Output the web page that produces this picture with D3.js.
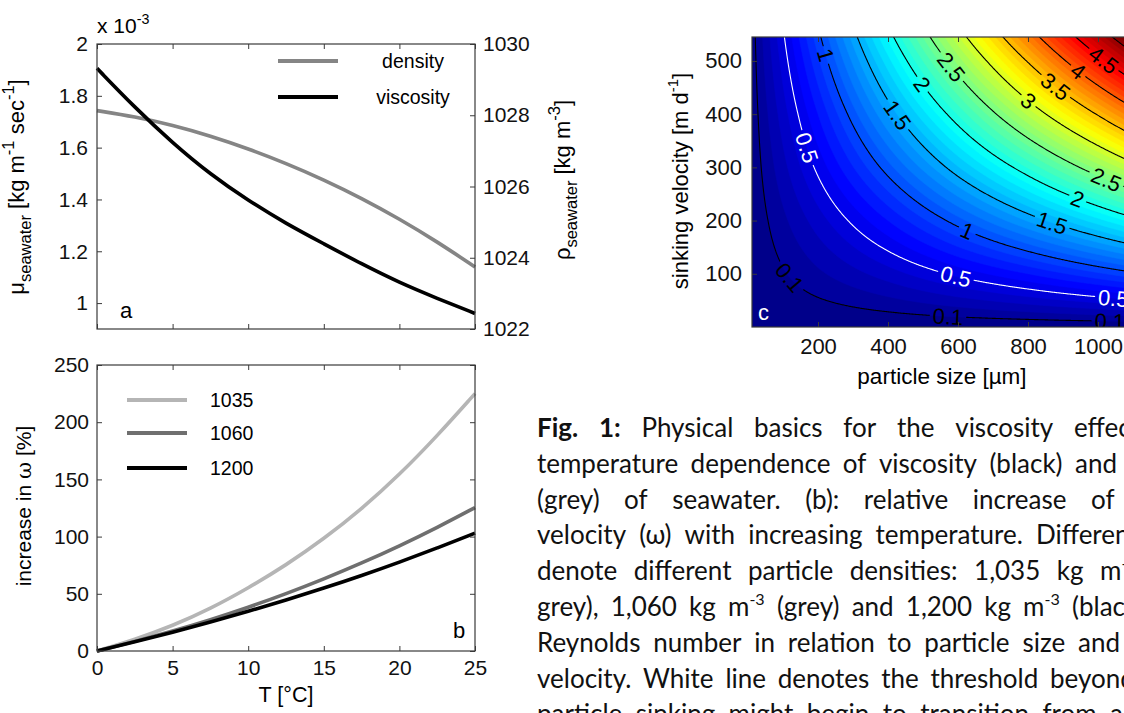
<!DOCTYPE html>
<html>
<head>
<meta charset="utf-8">
<script src="https://cdnjs.cloudflare.com/ajax/libs/d3/7.8.5/d3.min.js"></script>
<style>
  body { margin: 0; background: #fff; overflow: hidden; }
  svg { display: block; }
</style>
</head>
<body>
<div id="vis"></div>
<script>
'use strict';

// ---- values ----
// panel a / b share the temperature axis
var tempC = [0, 2.5, 5, 7.5, 10, 12.5, 15, 17.5, 20, 22.5, 25];
var viscosity = [1.906, 1.755, 1.618, 1.497, 1.396, 1.307, 1.229, 1.151, 1.079, 1.018, 0.960]; // x 10^-3
var density = [1028.13, 1027.96, 1027.72, 1027.42, 1027.06, 1026.65, 1026.19, 1025.67, 1025.09, 1024.45, 1023.74];
var inc1035 = [0, 10, 22, 37, 55, 75, 98, 124, 154, 188, 225];
var inc1060 = [0, 8.3, 17.3, 27.2, 38.1, 50, 62.9, 76.8, 91.8, 107.9, 125.4];
var inc1200 = [0, 7.9, 16.3, 25.2, 34.6, 44.5, 54.9, 65.9, 77.6, 90, 103];
var tTicks = [0, 5, 10, 15, 20, 25];
var muTicks = [1, 1.2, 1.4, 1.6, 1.8, 2];
var rhoTicks = [1022, 1024, 1026, 1028, 1030];
var incTicks = [0, 50, 100, 150, 200, 250];

// panel c: Reynolds number on a coarse grid (rows = sinking velocity)
var particleSize = [0, 200, 400, 600, 800, 1000, 1100];
var sinkVel = [0, 100, 200, 300, 400, 500, 550];
var reynolds = [
  [0, 0,    0,    0,    0,    0,    0   ],
  [0, 0.18, 0.35, 0.53, 0.70, 0.88, 0.97],
  [0, 0.35, 0.70, 1.06, 1.41, 1.76, 1.94],
  [0, 0.53, 1.06, 1.59, 2.11, 2.64, 2.91],
  [0, 0.70, 1.41, 2.11, 2.82, 3.52, 3.88],
  [0, 0.88, 1.76, 2.64, 3.52, 4.41, 4.85],
  [0, 0.97, 1.94, 2.91, 3.88, 4.85, 5.33]
];
var reLevels = [0.1, 0.5, 1, 1.5, 2, 2.5, 3, 3.5, 4, 4.5, 5];
var sizeTicks = [200, 400, 600, 800, 1000];
var velTicks = [100, 200, 300, 400, 500];

var captionLines = [
  'Fig. 1: Physical basics for the viscosity effect.',
  'temperature dependence of viscosity (black) and',
  '(grey) of seawater. (b): relative increase of',
  'velocity (\u03c9) with increasing temperature. Different',
  'denote different particle densities: 1,035 kg m^-3',
  'grey), 1,060 kg m^-3 (grey) and 1,200 kg m^-3 (black).',
  'Reynolds number in relation to particle size and',
  'velocity. White line denotes the threshold beyond',
  'particle sinking might begin to transition from a'
];

// ---- layout ----
var W = 1124, H = 713;
var AXIS = '#3a3a3a';
var FONT = '"Liberation Sans", Arial, Helvetica, sans-serif';
var TICK = 5;
var TICKFONT = 21;

var svg = d3.select('#vis').append('svg')
    .attr('width', W).attr('height', H)
    .style('font-family', FONT);

// text with sub/superscripts: parts = [[text, 'sub'|'sup'|undefined, font], ...]
function richText(sel, parts, size, small) {
  small = small || 0.68;
  var shift = 0;
  parts.forEach(function(p) {
    var want = p[1] === 'sub' ? size * 0.3 : (p[1] === 'sup' ? -size * 0.45 : 0);
    var t = sel.append('tspan').text(p[0]).attr('dy', want - shift);
    if (p[1]) t.attr('font-size', size * small);
    if (p[2]) t.attr('font-family', p[2]);
    shift = want;
  });
  return sel;
}

function rotatedLabel(cx, cy, parts, size, small) {
  var t = svg.append('text')
      .attr('transform', 'translate(' + cx + ',' + cy + ') rotate(-90)')
      .attr('text-anchor', 'middle')
      .attr('font-size', size);
  richText(t, parts, size, small);
}

function styleAxis(g, size) {
  g.attr('font-family', FONT).attr('font-size', size);
  g.select('.domain').remove();
  g.selectAll('.tick line').attr('stroke', AXIS);
  g.selectAll('.tick text').attr('fill', '#111');
}

function box(x, scale) {
  svg.append('rect')
      .attr('x', x.range()[0]).attr('y', scale.range()[1])
      .attr('width', x.range()[1] - x.range()[0])
      .attr('height', scale.range()[0] - scale.range()[1])
      .attr('fill', 'none').attr('stroke', AXIS).attr('stroke-width', 1.2);
}

// ================= panel a =================
var xA = d3.scaleLinear().domain([0, 25]).range([97, 475]);
var muY = d3.scaleLinear().domain([0.9, 2.0]).range([329, 44]);
var rhoY = d3.scaleLinear().domain([1022, 1030]).range([329, 44]);

function tempLine(scale, values) {
  return d3.line()
      .x(function(d, i) { return xA(tempC[i]); })
      .y(function(d) { return scale(d); })
      .curve(d3.curveBasis)(values);
}

svg.append('path').attr('d', tempLine(rhoY, density))
    .attr('fill', 'none').attr('stroke', '#858585').attr('stroke-width', 3.6);
svg.append('path').attr('d', tempLine(muY, viscosity))
    .attr('fill', 'none').attr('stroke', '#000').attr('stroke-width', 3.6);

styleAxis(svg.append('g').attr('transform', 'translate(97,0)')
    .call(d3.axisLeft(muY).tickValues(muTicks).tickSize(-TICK).tickPadding(9)
      .tickFormat(function(d) { return (d === 1 || d === 2) ? d : d.toFixed(1); })), TICKFONT);
styleAxis(svg.append('g').attr('transform', 'translate(475,0)')
    .call(d3.axisRight(rhoY).tickValues(rhoTicks).tickSize(-TICK).tickPadding(8)
      .tickFormat(d3.format('d'))), TICKFONT);
styleAxis(svg.append('g').attr('transform', 'translate(0,329)')
    .call(d3.axisBottom(xA).tickValues(tTicks).tickSize(-TICK).tickFormat('')), TICKFONT);
styleAxis(svg.append('g').attr('transform', 'translate(0,44)')
    .call(d3.axisTop(xA).tickValues(tTicks).tickSize(-TICK).tickFormat('')), TICKFONT);
box(xA, muY);

richText(svg.append('text').attr('x', 97).attr('y', 33).attr('font-size', 21),
    [['x 10'], ['-3', 'sup']], 21);
rotatedLabel(24, 187, [['\u03bc'], ['seawater', 'sub'], [' [kg m'], ['-1', 'sup'], [' sec'], ['-1', 'sup'], [']']], 22, 0.75);
rotatedLabel(570, 180, [['\u03c1'], ['seawater', 'sub'], [' [kg m'], ['-3', 'sup'], [']']], 22, 0.75);

// legend a
var legA = [['density', '#858585', 61], ['viscosity', '#000', 97]];
legA.forEach(function(d) {
  svg.append('line').attr('x1', 278).attr('x2', 338).attr('y1', d[2]).attr('y2', d[2])
      .attr('stroke', d[1]).attr('stroke-width', 4);
  svg.append('text').attr('x', 413).attr('y', d[2] + 7).attr('text-anchor', 'middle')
      .attr('font-size', 19.5).text(d[0]);
});
svg.append('text').attr('x', 120).attr('y', 318).attr('font-size', 22).text('a');

// ================= panel b =================
var incY = d3.scaleLinear().domain([0, 250]).range([651, 365]);
var seriesB = [['1035', inc1035, '#b5b5b5', 400], ['1060', inc1060, '#6f6f6f', 433], ['1200', inc1200, '#000', 468]];
seriesB.forEach(function(s) {
  svg.append('path').attr('d', tempLine(incY, s[1]))
      .attr('fill', 'none').attr('stroke', s[2]).attr('stroke-width', 3.6);
});

styleAxis(svg.append('g').attr('transform', 'translate(97,0)')
    .call(d3.axisLeft(incY).tickValues(incTicks).tickSize(-TICK).tickPadding(8)), TICKFONT);
styleAxis(svg.append('g').attr('transform', 'translate(475,0)')
    .call(d3.axisRight(incY).tickValues(incTicks).tickSize(-TICK).tickFormat('')), TICKFONT);
styleAxis(svg.append('g').attr('transform', 'translate(0,651)')
    .call(d3.axisBottom(xA).tickValues(tTicks).tickSize(-TICK).tickPadding(9)), TICKFONT);
styleAxis(svg.append('g').attr('transform', 'translate(0,365)')
    .call(d3.axisTop(xA).tickValues(tTicks).tickSize(-TICK).tickFormat('')), TICKFONT);
box(xA, incY);

seriesB.forEach(function(s) {
  svg.append('line').attr('x1', 127).attr('x2', 187).attr('y1', s[3]).attr('y2', s[3])
      .attr('stroke', s[2]).attr('stroke-width', 4);
  svg.append('text').attr('x', 210).attr('y', s[3] + 7).attr('font-size', 19.5).text(s[0]);
});
svg.append('text').attr('x', 453).attr('y', 638).attr('font-size', 22).text('b');
rotatedLabel(31, 506, [['increase in '], ['\u03c9', undefined, '"DejaVu Serif", serif'], [' [%]']], 21);
svg.append('text').attr('x', 286).attr('y', 702).attr('text-anchor', 'middle')
    .attr('font-size', 21.5).text('T [\u00b0C]');

// ================= panel c =================
var xC = d3.scaleLinear().domain([10, 1100]).range([751.5, 1133]);
var yC = d3.scaleLinear().domain([0, 545]).range([327, 37]);
var reMax = 5.1;

function jet(t) {
  t = Math.max(0, Math.min(1, t));
  function c(v) { return Math.max(0, Math.min(1, v)) * 255; }
  return d3.rgb(c(1.5 - Math.abs(4 * t - 3)), c(1.5 - Math.abs(4 * t - 2)), c(1.5 - Math.abs(4 * t - 1))) + '';
}

// bilinear read of the coarse table
function reAt(s, v) {
  var i = Math.max(0, Math.min(d3.bisectRight(particleSize, s) - 1, particleSize.length - 2));
  var j = Math.max(0, Math.min(d3.bisectRight(sinkVel, v) - 1, sinkVel.length - 2));
  var tx = (s - particleSize[i]) / (particleSize[i + 1] - particleSize[i]);
  var ty = (v - sinkVel[j]) / (sinkVel[j + 1] - sinkVel[j]);
  var r0 = reynolds[j][i] * (1 - tx) + reynolds[j][i + 1] * tx;
  var r1 = reynolds[j + 1][i] * (1 - tx) + reynolds[j + 1][i + 1] * tx;
  return r0 * (1 - ty) + r1 * ty;
}

var nx = 440, ny = 220;
var gx = d3.scaleLinear().domain([0, nx]).range([0, 1100]);
var gy = d3.scaleLinear().domain([0, ny]).range([0, 550]);
var grid = new Array(nx * ny);
for (var j = 0; j < ny; j++) {
  for (var i = 0; i < nx; i++) {
    grid[j * nx + i] = reAt(gx(i + 0.5), gy(j + 0.5));
  }
}
var gridPath = d3.geoPath(d3.geoTransform({
  point: function(px, py) { this.stream.point(xC(gx(px)), yC(gy(py))); }
}));

var defs = svg.append('defs');
defs.append('clipPath').attr('id', 'clipC').append('rect')
    .attr('x', 752).attr('y', 37).attr('width', 400).attr('height', 290);

var plotC = svg.append('g').attr('clip-path', 'url(#clipC)');
var bandStep = 0.1;
var bands = d3.contours().size([nx, ny]).thresholds(d3.range(0, 5.4, bandStep))(grid);
plotC.selectAll('path.band').data(bands).join('path')
    .attr('class', 'band')
    .attr('d', gridPath)
    .attr('fill', function(d) { return jet((d.value + bandStep / 2) / reMax); })
    .attr('stroke', function(d) { return jet((d.value + bandStep / 2) / reMax); })
    .attr('stroke-width', 0.6);

// contour lines without the segments that run along the grid border
var eps = 1e-6;
function onEdge(p) { return p[0] <= eps || p[0] >= nx - eps || p[1] <= eps || p[1] >= ny - eps; }
var isoLines = d3.contours().size([nx, ny]).thresholds(reLevels)(grid).map(function(c) {
  var lines = [];
  c.coordinates.forEach(function(poly) {
    poly.forEach(function(ring) {
      var cur = [];
      for (var k = 0; k < ring.length; k++) {
        var p = ring[k];
        if (k > 0 && onEdge(p) && onEdge(ring[k - 1])) {
          if (cur.length > 1) lines.push(cur);
          cur = [];
        }
        cur.push([xC(gx(p[0])), yC(gy(p[1]))]);
      }
      if (cur.length > 1) lines.push(cur);
    });
  });
  return { level: c.value, lines: lines };
});

// label spots (data units, where the figure prints them)
var reLabelSpots = [
  [1, 220, 511], [0.5, 163, 336], [2.5, 583, 489], [2, 500, 458], [1.5, 434, 402],
  [3.5, 883, 455], [3, 806, 430], [4, 949, 487], [4.5, 1026, 511],
  [2.5, 1026, 281], [2, 943, 243], [1.5, 869, 196], [1, 626, 181],
  [0.5, 591, 91], [0.5, 1043, 49], [0.1, 114, 91], [0.1, 571, 15], [0.1, 1034, 6]
];

var mask = defs.append('mask').attr('id', 'gapMask').attr('maskUnits', 'userSpaceOnUse')
    .attr('x', 0).attr('y', 0).attr('width', W).attr('height', H);
mask.append('rect').attr('width', W).attr('height', H).attr('fill', '#fff');

var lineG = plotC.append('g').attr('mask', 'url(#gapMask)');
var line = d3.line();
isoLines.forEach(function(iso) {
  iso.lines.forEach(function(pts) {
    lineG.append('path').attr('d', line(pts)).attr('fill', 'none')
        .attr('stroke', iso.level === 0.5 ? '#fff' : '#000').attr('stroke-width', 1.1);
  });
});

var labelG = plotC.append('g');
reLabelSpots.forEach(function(spot) {
  var iso = isoLines.filter(function(d) { return Math.abs(d.level - spot[0]) < 1e-9; })[0];
  var tx = xC(spot[1]), ty = yC(spot[2]);
  var best = null, bestD = Infinity;
  iso.lines.forEach(function(pts) {
    pts.forEach(function(p, k) {
      var dd = (p[0] - tx) * (p[0] - tx) + (p[1] - ty) * (p[1] - ty);
      if (dd < bestD) { bestD = dd; best = { pts: pts, k: k }; }
    });
  });
  if (!best) return;
  var pts = best.pts, k = best.k;
  var a = pts[Math.max(0, k - 3)], b = pts[Math.min(pts.length - 1, k + 3)];
  var ang = Math.atan2(b[1] - a[1], b[0] - a[0]) * 180 / Math.PI;
  if (ang > 90) ang -= 180;
  if (ang < -90) ang += 180;
  var p = pts[k];
  var t = labelG.append('text')
      .attr('transform', 'translate(' + p[0] + ',' + p[1] + ') rotate(' + ang + ')')
      .attr('text-anchor', 'middle').attr('dy', '0.36em')
      .attr('font-size', 22)
      .attr('fill', spot[0] === 0.5 ? '#fff' : '#000')
      .text(spot[0]);
  var w = t.node().getComputedTextLength() + 6;
  mask.append('rect')
      .attr('x', -w / 2).attr('y', -9).attr('width', w).attr('height', 18)
      .attr('transform', 'translate(' + p[0] + ',' + p[1] + ') rotate(' + ang + ')')
      .attr('fill', '#000');
});

plotC.append('text').attr('x', 758).attr('y', 320).attr('font-size', 22)
    .attr('fill', '#fff').text('c');

styleAxis(svg.append('g').attr('transform', 'translate(752,0)')
    .call(d3.axisLeft(yC).tickValues(velTicks).tickSize(-TICK).tickPadding(10)), 22);
styleAxis(svg.append('g').attr('transform', 'translate(0,327)')
    .call(d3.axisBottom(xC).tickValues(sizeTicks).tickSize(-TICK).tickPadding(11)
      .tickFormat(d3.format('d'))), 22);
styleAxis(svg.append('g').attr('transform', 'translate(0,37)')
    .call(d3.axisTop(xC).tickValues(sizeTicks).tickSize(-TICK).tickFormat('')), 22);
svg.append('rect').attr('x', 752).attr('y', 37).attr('width', 381).attr('height', 290)
    .attr('fill', 'none').attr('stroke', AXIS).attr('stroke-width', 1.2);

rotatedLabel(688, 181, [['sinking velocity [m d'], ['-1', 'sup'], [']']], 22);
svg.append('text').attr('x', 942).attr('y', 384).attr('text-anchor', 'middle')
    .attr('font-size', 22.5).text('particle size [\u00b5m]');

// ================= caption (justified lines, cut by the page edge) =================
var capLeft = 537, capTop = 437, capLead = 35.8;
var capLastWordX = [1074, 1075, 1091, 1036, 1100, 1072, 1078, 1050, 1110];
var capFont = 'Lato, "Open Sans", sans-serif', capSize = 26;
var capG = svg.append('g').attr('font-family', capFont).attr('font-size', capSize).attr('fill', '#111');

captionLines.forEach(function(lineText, li) {
  var words = lineText.split(' ');
  var nodes = words.map(function(wd, wi) {
    var t = capG.append('text').attr('y', capTop + li * capLead);
    if (li === 0 && wi < 2) t.attr('font-weight', 'bold');
    var parts = wd.split('^');
    t.append('tspan').text(parts[0]);
    if (parts.length > 1) {
      t.append('tspan').text(parts[1]).attr('font-size', capSize * 0.62).attr('dy', -capSize * 0.42);
    }
    return t;
  });
  var widths = nodes.map(function(t) { return t.node().getComputedTextLength(); });
  var before = d3.sum(widths.slice(0, widths.length - 1));
  var gap = Math.max(4, (capLastWordX[li] - capLeft - before) / (words.length - 1));
  var x = capLeft;
  nodes.forEach(function(t, wi) {
    t.attr('x', x);
    x += widths[wi] + gap;
  });
});
</script>
</body>
</html>
